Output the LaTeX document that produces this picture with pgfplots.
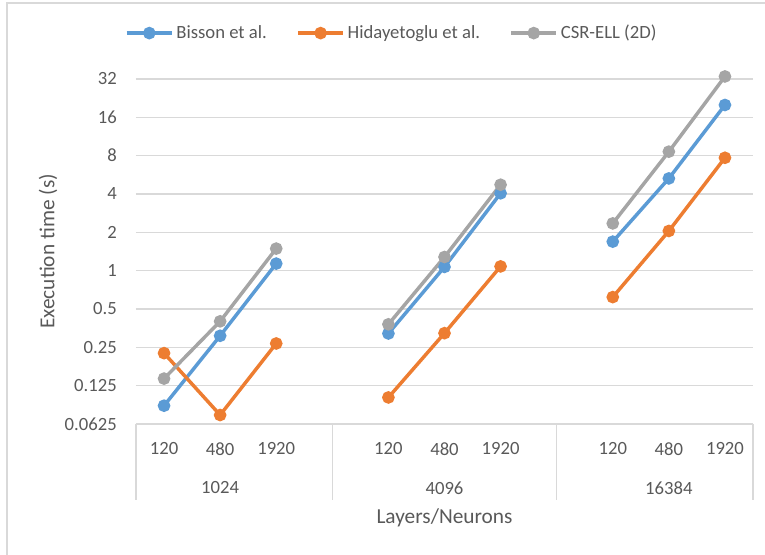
\documentclass[border=0pt]{standalone}
\usepackage{pgfplots}
\pgfplotsset{compat=1.18}
\usepackage{pgfplotstable}
\usepackage{fontspec}
\setmainfont{Carlito}
\definecolor{cblue}{HTML}{5B9BD5}
\definecolor{corange}{HTML}{ED7D31}
\definecolor{cgray}{HTML}{A5A5A5}
\definecolor{ctext}{HTML}{595959}
\definecolor{cgrid}{HTML}{D9D9D9}
\pgfplotstableread{
x bisson hid csr
0 0.087 0.225 0.142
1 0.308 0.0735 0.40
2 1.136 0.268 1.49
3 nan nan nan
4 0.321 0.101 0.379
5 1.07 0.323 1.28
6 4.05 1.08 4.73
7 nan nan nan
8 1.69 0.62 2.35
9 5.30 2.05 8.6
10 20.0 7.7 33.5
}\datatable
\begin{document}
\begin{tikzpicture}
\useasboundingbox (0,0) rectangle (573.75pt,416.25pt);
\draw[cgrid, line width=1pt] (5.25pt,-7pt) rectangle (580pt,414pt);
\begin{axis}[
  at={(102pt,98.25pt)}, anchor=south west,
  scale only axis, width=462.75pt, height=258.75pt,
  xmin=-0.5, xmax=10.5,
  ymode=log, log basis y=2, ymin=0.0625, ymax=32,
  clip=false,
  unbounded coords=jump,
  axis line style={draw=none},
  major tick length=0pt,
  ymajorgrids, grid style={cgrid, line width=1pt},
  ytick={0.0625,0.125,0.25,0.5,1,2,4,8,16,32},
  yticklabels={0.0625,0.125,0.25,0.5,1,2,4,8,16,32},
  xtick={0,1,2,4,5,6,8,9,10},
  xticklabels={120,480,1920,120,480,1920,120,480,1920},
  /pgf/number format/assume math mode=true,
  ticklabel style={font=\fontsize{14}{16}\selectfont, text=ctext, inner sep=0pt},
  yticklabel style={anchor=east, xshift=-14.25pt},
  xticklabel style={anchor=center, yshift=-18.75pt},
  legend columns=3,
  legend style={at={(0.415,1.133)}, anchor=center, draw=none, fill=none,
    font=\fontsize{14}{16}\selectfont, text=ctext,
    /tikz/every even column/.append style={column sep=20pt}},
  legend image code/.code={\draw[mark repeat=2,mark phase=2,#1] plot coordinates {(0pt,0pt) (17pt,0pt) (34pt,0pt)};},
  every axis plot/.append style={line width=2.6pt, mark=*, mark size=3.4pt},
]
\addplot[cblue, mark options={fill=cblue, draw=cblue}] table[x=x,y=bisson]{\datatable};
\addlegendentry{Bisson et al.}
\addplot[corange, mark options={fill=corange, draw=corange}] table[x=x,y=hid]{\datatable};
\addlegendentry{Hidayetoglu et al.}
\addplot[cgray, mark options={fill=cgray, draw=cgray}] table[x=x,y=csr]{\datatable};
\addlegendentry{CSR-ELL (2D)}
\draw[cgrid, line width=1pt] (axis cs:-0.5,0.0625) -- ([yshift=-57pt]axis cs:-0.5,0.0625);
\draw[cgrid, line width=1pt] (axis cs:3,0.0625) -- ([yshift=-57pt]axis cs:3,0.0625);
\draw[cgrid, line width=1pt] (axis cs:7,0.0625) -- ([yshift=-57pt]axis cs:7,0.0625);
\draw[cgrid, line width=1pt] (axis cs:10.5,0.0625) -- ([yshift=-57pt]axis cs:10.5,0.0625);
\node[font=\fontsize{14}{16}\selectfont, text=ctext] at ([yshift=-48pt]axis cs:1,0.0625) {1024};
\node[font=\fontsize{14}{16}\selectfont, text=ctext] at ([yshift=-48pt]axis cs:5,0.0625) {4096};
\node[font=\fontsize{14}{16}\selectfont, text=ctext] at ([yshift=-48pt]axis cs:9,0.0625) {16384};
\node[font=\fontsize{16}{18}\selectfont, text=ctext] at ([yshift=-70.5pt]axis cs:5,0.0625) {Layers/Neurons};
\node[font=\fontsize{16}{18}\selectfont, text=ctext, rotate=90] at ([xshift=-66pt]rel axis cs:0,0.5) {Execution time (s)};
\end{axis}
\end{tikzpicture}
\end{document}
